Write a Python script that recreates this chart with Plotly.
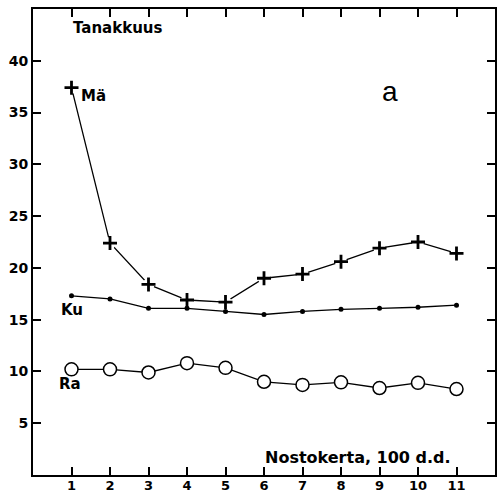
import plotly.graph_objects as go

x_vals = [1, 2, 3, 4, 5, 6, 7, 8, 9, 10, 11]
ma_vals = [37.4, 22.4, 18.4, 16.9, 16.7, 19.0, 19.4, 20.6, 21.9, 22.5, 21.4]
ku_vals = [17.3, 17.0, 16.1, 16.1, 15.8, 15.5, 15.8, 16.0, 16.1, 16.2, 16.4]
ra_vals = [10.2, 10.2, 9.9, 10.8, 10.35, 9.0, 8.7, 8.95, 8.4, 8.9, 8.3]
x_ticks = [1, 2, 3, 4, 5, 6, 7, 8, 9, 10, 11]
y_ticks = [5, 10, 15, 20, 25, 30, 35, 40]

BOLD = "DejaVu Sans"

fig = go.Figure()
# Mä line
fig.add_trace(go.Scatter(x=x_vals, y=ma_vals, mode="lines",
                         line=dict(color="black", width=1.3), showlegend=False))
# white halos to make gaps around plus markers
fig.add_trace(go.Scatter(x=x_vals, y=ma_vals, mode="markers",
                         marker=dict(symbol="circle", size=12, color="white",
                                     line=dict(width=0)), showlegend=False))
fig.add_trace(go.Scatter(x=x_vals, y=ma_vals, mode="markers",
                         marker=dict(symbol="cross-thin", size=10, color="black",
                                     line=dict(color="black", width=2.8)),
                         showlegend=False))
# Ku
fig.add_trace(go.Scatter(x=x_vals, y=ku_vals, mode="lines+markers",
                         line=dict(color="black", width=1.3),
                         marker=dict(symbol="circle", size=5, color="black"),
                         showlegend=False))
# Ra
fig.add_trace(go.Scatter(x=x_vals, y=ra_vals, mode="lines+markers",
                         line=dict(color="black", width=1.3),
                         marker=dict(symbol="circle", size=13, color="white",
                                     line=dict(color="black", width=1.5)),
                         showlegend=False))

def label(text, x, y, size=14, family=BOLD, weight="bold"):
    fig.add_annotation(x=x, y=y, text=text, showarrow=False, xref="x", yref="y",
                       font=dict(family=family, size=size, color="black", weight=weight),
                       xanchor="center", yanchor="middle")

label("Tanakkuus", 2.22, 43.2, size=15)
label("Mä", 1.57, 36.6, size=15)
label("Ku", 1.0, 15.9, size=15)
label("Ra", 0.97, 8.8, size=15)
label("Nostokerta, 100 d.d.", 8.43, 1.65, size=16)
label("a", 9.26, 37.0, size=28, family="Liberation Sans", weight="normal")

axis_common = dict(showline=True, linecolor="black", linewidth=2, mirror="ticks",
                   ticks="inside", ticklen=8, tickwidth=1.5, tickcolor="black",
                   showgrid=False, zeroline=False, automargin=False,
                   tickfont=dict(family=BOLD, size=14, color="black", weight="bold"))

fig.update_xaxes(range=[0, 12], tickvals=x_ticks, ticklabelstandoff=-3,
                 **{**axis_common, "tickfont": dict(family=BOLD, size=13, color="black", weight="bold")})
fig.update_yaxes(range=[0, 45], tickvals=y_ticks, **axis_common)

fig.update_layout(width=497, height=492,
                  margin=dict(l=33, r=2, t=9, b=17),
                  paper_bgcolor="white", plot_bgcolor="white")

fig.write_html("out.html",
               config={"displayModeBar": False},
               post_script="document.body.style.margin='0';"
                           "document.body.style.overflow='hidden';")
